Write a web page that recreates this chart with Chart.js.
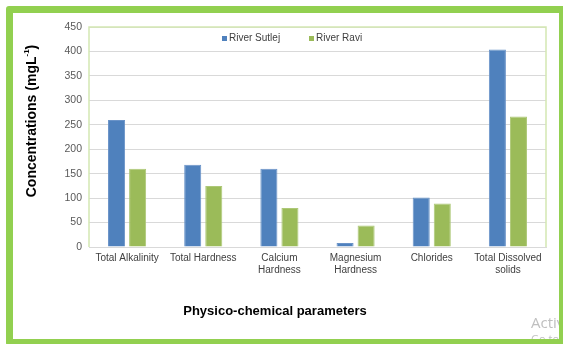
<!DOCTYPE html>
<html>
<head>
<meta charset="utf-8">
<script src="https://cdn.jsdelivr.net/npm/chart.js@4.4.1/dist/chart.umd.min.js"></script>
<style>
  html, body { margin: 0; padding: 0; background: #ffffff; overflow: hidden; }
  #wrap { position: relative; width: 563px; height: 344px; overflow: hidden; }
  #c { position: absolute; left: 0; top: 0; }
  #frame {
    position: absolute; left: 6px; top: 6px; width: 560px; height: 340px;
    box-sizing: border-box; border: 7px solid #92d050; border-radius: 3px;
    pointer-events: none;
  }
</style>
</head>
<body>
<div id="wrap">
  <canvas id="c" width="563" height="344"></canvas>
  <div id="frame"></div>
</div>
<script>
// Physico-chemical parameters measured in the two rivers (mg/L)
const categories = [
  'Total Alkalinity',
  'Total Hardness',
  ['Calcium', 'Hardness'],
  ['Magnesium', 'Hardness'],
  'Chlorides',
  ['Total Dissolved', 'solids']
];
const seriesNames = ['River Sutlej', 'River Ravi'];
const sutlejValues = [260, 168, 160, 8, 101, 404];
const raviValues = [160, 125, 80, 44, 89, 267];
const yTicks = [0, 50, 100, 150, 200, 250, 300, 350, 400, 450];

const FONT = '"Liberation Sans", Arial, sans-serif';

// Legend drawn inside the plot area, near its top edge
const keyPlugin = {
  id: 'seriesKey',
  afterDatasetsDraw(chart) {
    const ctx = chart.ctx;
    const starts = [222, 309];
    const y = 38.5;
    ctx.save();
    ctx.font = '10px ' + FONT;
    ctx.textBaseline = 'middle';
    ctx.textAlign = 'left';
    chart.data.datasets.forEach((ds, i) => {
      ctx.fillStyle = ds.backgroundColor;
      ctx.fillRect(starts[i], y - 2.5, 5, 5);
      ctx.fillStyle = '#404040';
      ctx.fillText(ds.label, starts[i] + 7, y);
    });
    ctx.restore();
  }
};

// Plot-area outline (light green on left, top and right)
const outlinePlugin = {
  id: 'plotOutline',
  beforeDatasetsDraw(chart) {
    const { ctx, chartArea: a } = chart;
    ctx.save();
    ctx.strokeStyle = '#d3e7b3';
    ctx.lineWidth = 1.5;
    ctx.beginPath();
    ctx.moveTo(a.left, a.bottom);
    ctx.lineTo(a.left, a.top);
    ctx.lineTo(a.right, a.top);
    ctx.lineTo(a.right, a.bottom);
    ctx.stroke();
    ctx.restore();
  }
};

// Axis titles and the faint overlay text in the corner
const titlesPlugin = {
  id: 'axisTitles',
  afterDraw(chart) {
    const ctx = chart.ctx;
    ctx.save();
    // vertical title with superscript unit
    const main = 'Concentrations (mgL';
    const sup = '-1';
    const tail = ')';
    ctx.font = 'bold 14px ' + FONT;
    const wMain = ctx.measureText(main).width;
    const wTail = ctx.measureText(tail).width;
    ctx.font = 'bold 8px ' + FONT;
    const wSup = ctx.measureText(sup).width;
    const total = wMain + wSup + wTail;
    ctx.translate(32, 121);
    ctx.rotate(-Math.PI / 2);
    ctx.fillStyle = '#000000';
    ctx.textBaseline = 'middle';
    ctx.textAlign = 'left';
    let x = -total / 2;
    ctx.font = 'bold 14px ' + FONT;
    ctx.fillText(main, x, 0);
    x += wMain;
    ctx.font = 'bold 8px ' + FONT;
    ctx.fillText(sup, x, -5);
    x += wSup;
    ctx.font = 'bold 14px ' + FONT;
    ctx.fillText(tail, x, 0);
    ctx.restore();

    ctx.save();
    ctx.font = 'bold 13px ' + FONT;
    ctx.fillStyle = '#000000';
    ctx.textAlign = 'center';
    ctx.textBaseline = 'middle';
    ctx.fillText('Physico-chemical parameters', 275, 311);

    ctx.fillStyle = 'rgba(170,170,170,0.75)';
    ctx.textAlign = 'left';
    ctx.textBaseline = 'alphabetic';
    ctx.font = '15px "Open Sans", ' + FONT;
    ctx.fillText('Activate Windows', 531, 328);
    ctx.font = '11px "Open Sans", ' + FONT;
    ctx.fillText('Go to Settings to activate Windows.', 531, 343);
    ctx.restore();
  }
};

new Chart(document.getElementById('c'), {
  type: 'bar',
  data: {
    labels: categories,
    datasets: [
      {
        label: seriesNames[0],
        data: sutlejValues,
        backgroundColor: '#4f81bd',
        borderColor: '#6a93c8',
        borderWidth: 1,
        barPercentage: 0.81,
        categoryPercentage: 0.553
      },
      {
        label: seriesNames[1],
        data: raviValues,
        backgroundColor: '#9bbb59',
        borderColor: '#adc877',
        borderWidth: 1,
        barPercentage: 0.81,
        categoryPercentage: 0.553
      }
    ]
  },
  options: {
    responsive: false,
    animation: false,
    layout: { padding: { top: 27, right: 17, left: 0, bottom: 0 } },
    plugins: {
      legend: { display: false },
      title: { display: false },
      tooltip: { enabled: false }
    },
    scales: {
      x: {
        grid: { display: false, drawTicks: false },
        border: { display: true, color: '#d9d9d9', width: 1 },
        ticks: {
          color: '#404040',
          padding: 5,
          maxRotation: 0,
          autoSkip: false,
          font: { family: FONT, size: 10, lineHeight: 1.2 }
        },
        afterFit(scale) { scale.height = 97; }
      },
      y: {
        min: 0,
        max: 450,
        afterBuildTicks(scale) { scale.ticks = yTicks.map(v => ({ value: v })); },
        grid: { color: '#d9d9d9', drawTicks: false, lineWidth: 1 },
        border: { display: false },
        ticks: {
          color: '#595959',
          padding: 7,
          font: { family: FONT, size: 10.5 }
        },
        afterFit(scale) { scale.width = 89; }
      }
    }
  },
  plugins: [outlinePlugin, keyPlugin, titlesPlugin]
});
</script>
</body>
</html>
